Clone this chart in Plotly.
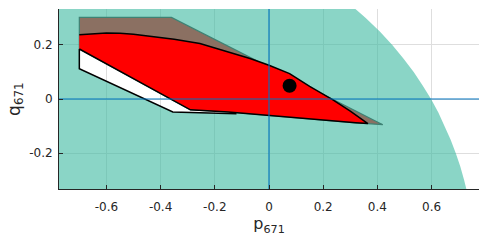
import plotly.graph_objects as go

# ---- data ----
# right boundary of the teal operating region (arc)
arc_y = [0.34, 0.333, 0.30, 0.25, 0.20, 0.15, 0.10, 0.05, 0.0, -0.05, -0.10, -0.15, -0.20, -0.25, -0.30, -0.333, -0.34]
arc_x = [0.315, 0.319, 0.357, 0.409, 0.455, 0.496, 0.534, 0.567, 0.598, 0.625, 0.649, 0.670, 0.689, 0.706, 0.720, 0.728, 0.730]
region_left = -0.80

# brown polygon upper boundary
brown_top_x = [-0.70, -0.70, -0.36, 0.42]
brown_top_y = [0.185, 0.302, 0.302, -0.095]

# red polygon
red_top_x = [-0.70, -0.65, -0.60, -0.55, -0.50, -0.44, -0.35, -0.255, -0.145, -0.07, 0.0, 0.076, 0.15, 0.236, 0.30, 0.365]
red_top_y = [0.238, 0.242, 0.244, 0.243, 0.240, 0.232, 0.221, 0.205, 0.173, 0.150, 0.125, 0.094, 0.047, -0.003, -0.045, -0.091]
red_bot_x = [0.365, 0.32, 0.15, 0.0, -0.15, -0.29, -0.70]
red_bot_y = [-0.091, -0.088, -0.073, -0.061, -0.048, -0.040, 0.185]

# white (excluded) area lower boundary
white_bot_x = [-0.70, -0.70, -0.355, -0.25, -0.12]
white_bot_y = [0.185, 0.112, -0.048, -0.051, -0.055]

# operating point
pt_x = [0.076]
pt_y = [0.049]

x_ticks = [-0.6, -0.4, -0.2, 0.0, 0.2, 0.4, 0.6]
x_ticklabels = ["-0.6", "-0.4", "-0.2", "0", "0.2", "0.4", "0.6"]
y_ticks = [-0.2, 0.0, 0.2]
y_ticklabels = ["-0.2", "0", "0.2"]
x_range = [-0.775, 0.775]
y_range = [-0.333, 0.333]

# ---- build figure ----
fig = go.Figure()

# teal region with a hole (white area); hole drawn with opposite winding
hole_x = white_bot_x + [-0.15, -0.29, -0.70]
hole_y = white_bot_y + [-0.048, -0.040, 0.185]
teal_x = [region_left] + arc_x + [region_left, region_left, None] + hole_x
teal_y = [arc_y[0]] + arc_y + [arc_y[-1], arc_y[0], None] + hole_y
fig.add_trace(go.Scatter(x=teal_x, y=teal_y, mode="lines", fill="toself",
                         fillcolor="rgba(60,185,160,0.6)", line=dict(width=0),
                         hoverinfo="skip", showlegend=False))

# brown polygon
bx = brown_top_x + red_bot_x[1:]
by = brown_top_y + red_bot_y[1:]
fig.add_trace(go.Scatter(x=bx, y=by, mode="lines", fill="toself",
                         fillcolor="#8b7062", line=dict(color="#3e8274", width=1.2),
                         hoverinfo="skip", showlegend=False))

# red polygon
rx = red_top_x + red_bot_x[1:]
ry = red_top_y + red_bot_y[1:]
fig.add_trace(go.Scatter(x=rx, y=ry, mode="lines", fill="toself",
                         fillcolor="#ff0000", line=dict(color="black", width=1.5),
                         hoverinfo="skip", showlegend=False))

# white area outline
fig.add_trace(go.Scatter(x=white_bot_x, y=white_bot_y, mode="lines",
                         line=dict(color="black", width=1.5),
                         hoverinfo="skip", showlegend=False))

# blue axis lines
fig.add_trace(go.Scatter(x=x_range, y=[0, 0], mode="lines",
                         line=dict(color="#0072bd", width=1.1),
                         hoverinfo="skip", showlegend=False))
fig.add_trace(go.Scatter(x=[0, 0], y=y_range, mode="lines",
                         line=dict(color="#0072bd", width=1.1),
                         hoverinfo="skip", showlegend=False))

# operating point
fig.add_trace(go.Scatter(x=pt_x, y=pt_y, mode="markers",
                         marker=dict(color="black", size=14),
                         hoverinfo="skip", showlegend=False))

axis_common = dict(showgrid=True, gridcolor="#dedede", gridwidth=1,
                   zeroline=False, showline=True, linecolor="#262626", linewidth=1,
                   ticks="inside", ticklen=4, tickcolor="#262626",
                   tickfont=dict(family="DejaVu Sans", size=12, color="#262626"),
                   mirror=False)

fig.update_xaxes(range=x_range, tickvals=x_ticks, ticktext=x_ticklabels,
                 ticklabelstandoff=7,
                 title=dict(text="p<sub>671</sub>", font=dict(family="DejaVu Sans", size=16, color="#262626"), standoff=4),
                 **axis_common)
fig.update_yaxes(range=y_range, tickvals=y_ticks, ticktext=y_ticklabels,
                 ticklabelstandoff=3, **axis_common)

fig.add_annotation(text="q<sub>671</sub>", xref="paper", yref="paper",
                   x=-0.105, y=0.5, xanchor="center", yanchor="middle",
                   textangle=-90, showarrow=False,
                   font=dict(family="DejaVu Sans", size=17, color="#262626"))

fig.update_layout(width=490, height=240,
                  margin=dict(l=59, r=11, t=9, b=51),
                  plot_bgcolor="white", paper_bgcolor="white",
                  showlegend=False)

fig.write_html("out.html")
